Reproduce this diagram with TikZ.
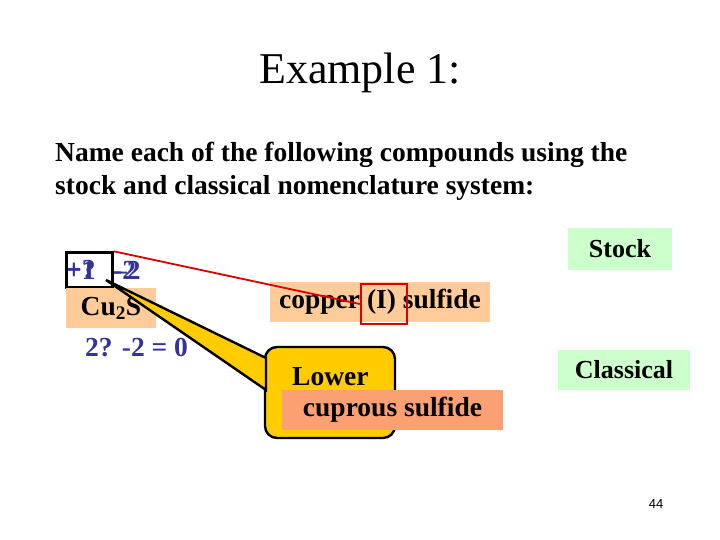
\documentclass[tikz,border=0pt]{standalone}
\usepackage{fontspec}
\setmainfont{Liberation Serif}
\newfontfamily\sansfont{Liberation Sans}
\usetikzlibrary{positioning,calc}
\definecolor{boxgreen}{RGB}{204,255,204}
\definecolor{peach}{RGB}{255,204,153}
\definecolor{salmon}{RGB}{250,160,115}
\definecolor{callout}{RGB}{255,204,0}
\definecolor{navy}{RGB}{51,51,153}
\tikzset{
    body/.style={font=\fontsize{27.5}{32}\selectfont\bfseries, anchor=west, inner sep=0pt},
    tag/.style={rectangle, fill=boxgreen, font=\fontsize{26}{30}\selectfont\bfseries, inner sep=0pt},
    namebox/.style={rectangle, fill=peach, font=\fontsize{27.5}{32}\selectfont\bfseries, inner sep=0pt},
    ox/.style={font=\fontsize{27.5}{32}\selectfont\bfseries, text=navy, inner sep=0pt}
}
\begin{document}
\begin{tikzpicture}[x=1pt, y=-1pt]
    \useasboundingbox (0,0) rectangle (720,540);
    \node [font=\fontsize{44}{48}\selectfont] (title) at (360,73) {Example 1:};
    \node [body] (line1) at (55,155) {Name each of the following compounds using the};
    \node [body] (line2) at (55,188) {stock and classical nomenclature system:};

    \node [tag, minimum width=104, minimum height=41] (stock) at (620,249) {Stock};
    \node [tag, minimum width=132, minimum height=40] (classical) at (624,370) {Classical};

    % oxidation numbers
    \node [ox, anchor=west] (plusq) at (66,270) {+?};
    \node [ox, anchor=west] (plusone) at (66,270) {+1};
    \node [ox, anchor=west] (minus) at (113,270) {-2};
    \node [ox, anchor=west] (minustwo) at (113,270) {--2};
    \node [draw=black, line width=2.4pt, minimum width=46, minimum height=35] (cubox) at (89.5,270) {};
    \node [namebox, minimum width=90, minimum height=40] (formula) at (111,308) {Cu\textsubscript{2}S};
    \node [ox, anchor=west] (check) at (85,348) {2? -2 = 0};

    % callout
    \coordinate (tip) at (106,280);
    \fill [callout, draw=black, line width=2.4pt, rounded corners=12]
        (265,347) rectangle (395,438);
    \fill [callout, draw=black, line width=2.4pt]
        (tip) -- (266,358) -- (266,390) -- cycle;
    \fill [callout] (268,356) rectangle (280,392);
    \node [body] (lower) at (292,377) {Lower};
    \node [namebox, fill=salmon, minimum width=221, minimum height=40] (cuprous) at (392.5,410) {cuprous sulfide};

    \node [namebox, minimum width=220, minimum height=40] (copper) at (380,302) {copper (I) sulfide};
    \node [draw=red!85!black, line width=2.4pt, minimum width=46, minimum height=40] (roman) at (384,304) {};
    \draw [red!85!black, line width=1.8pt] (cubox.north east) -- (roman.west);

    \node [font=\sansfont\fontsize{13}{15}\selectfont] (page) at (656,504) {44};
\end{tikzpicture}
\end{document}
